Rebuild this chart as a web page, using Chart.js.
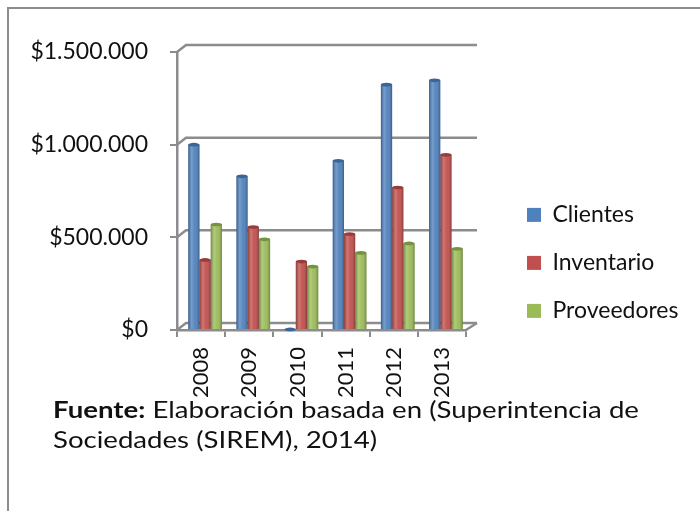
<!DOCTYPE html>
<html lang="es">
<head>
<meta charset="utf-8">
<script src="https://cdn.jsdelivr.net/npm/chart.js@4.4.1/dist/chart.umd.min.js"></script>
<style>
    body { margin: 0; background: #fff; }
    .page { position: relative; width: 700px; height: 511px; overflow: hidden; font-family: Lato, "Open Sans", sans-serif; }
    .frame { position: absolute; left: 7px; top: 7px; right: -10px; bottom: -10px; border-top: 2px solid #8c8c8c; border-left: 2px solid #8c8c8c; }
    canvas { position: absolute; left: 0; top: 0; }
    .fuente { position: absolute; left: 53px; top: 394px; font-size: 23px; line-height: 30px; color: #111; white-space: nowrap; transform: scaleX(1.2); transform-origin: 0 0; }
</style>
</head>
<body>
<div class="page">
    <div class="frame"></div>
    <canvas id="chart" width="700" height="420"></canvas>
    <div class="fuente"><b>Fuente:</b> Elaboración basada en (Superintencia de<br>Sociedades (SIREM), 2014)</div>
</div>
<script>
const years = ["2008", "2009", "2010", "2011", "2012", "2013"];
const clientes = [1000000, 829000, 3000, 913000, 1324000, 1347000];
const inventario = [378000, 556000, 369000, 518000, 769000, 945000];
const proveedores = [569000, 489000, 342000, 416000, 467000, 438000];
const yTicks = [0, 500000, 1000000, 1500000];

const gridGray = "#8c8c8c";
const depthX = 9, depthY = -7;
const legendBoxWidth = 197;

const money = (v) => "$" + String(v).replace(/\B(?=(\d{3})+(?!\d))/g, ".");

// the layout caps a side legend at a fraction of the width, widen it back
const legendWidth = {
    id: "legendWidth",
    beforeLayout(chart) {
        const lg = chart.legend;
        if (!lg || lg._widthFixed) return;
        const fit = lg.fit.bind(lg);
        lg.fit = () => { fit(); lg.width = legendBoxWidth; };
        lg._widthFixed = true;
    }
};

// back wall + floor, drawn from the scales
const wall3d = {
    id: "wall3d",
    beforeDatasetsDraw(chart) {
        const { ctx, scales: { x, y } } = chart;
        ctx.save();
        ctx.strokeStyle = gridGray;
        ctx.lineWidth = 2.5;
        yTicks.forEach(t => {
            const py = y.getPixelForValue(t);
            ctx.beginPath();
            ctx.moveTo(x.left, py);
            ctx.lineTo(x.left + depthX, py + depthY);
            ctx.lineTo(x.right + depthX + 2, py + depthY);
            ctx.stroke();
        });
        const py0 = y.getPixelForValue(0);
        ctx.beginPath();
        ctx.moveTo(x.right, py0);
        ctx.lineTo(x.right + depthX + 2, py0 + depthY);
        ctx.stroke();
        ctx.restore();
        // push bars a bit back into the depth
        ctx.save();
        ctx.translate(4, 0);
    },
    afterDatasetsDraw(chart) {
        const { ctx } = chart;
        chart.data.datasets.forEach((ds, i) => {
            chart.getDatasetMeta(i).data.forEach(bar => {
                const { x, y, base, width } = bar.getProps(["x", "y", "base", "width"], true);
                const l = x - width / 2;
                const g = ctx.createLinearGradient(l, 0, l + width, 0);
                g.addColorStop(0, "rgba(0,0,0,0.28)");
                g.addColorStop(0.3, "rgba(255,255,255,0.22)");
                g.addColorStop(0.6, "rgba(255,255,255,0.04)");
                g.addColorStop(1, "rgba(0,0,0,0.30)");
                ctx.fillStyle = g;
                ctx.fillRect(l, y, width, base - y);
                ctx.beginPath();
                ctx.ellipse(x, y, width / 2, 1.8, 0, 0, Math.PI * 2);
                ctx.fillStyle = ds.edgeColor;
                ctx.fill();
            });
        });
        ctx.restore();
    }
};

new Chart(document.getElementById("chart"), {
    type: "bar",
    data: {
        labels: years,
        datasets: [
            { label: "Clientes", data: clientes, backgroundColor: "#4f81bd", edgeColor: "#3a6596" },
            { label: "Inventario", data: inventario, backgroundColor: "#c0504d", edgeColor: "#983c3a" },
            { label: "Proveedores", data: proveedores, backgroundColor: "#9bbb59", edgeColor: "#76923f" }
        ]
    },
    options: {
        responsive: false,
        animation: false,
        layout: { padding: { top: 52, left: 0, right: 1, bottom: 12 } },
        datasets: { bar: { categoryPercentage: 0.7, barPercentage: 1.0, borderWidth: 0 } },
        scales: {
            x: {
                grid: { drawOnChartArea: false, color: gridGray, lineWidth: 2, tickLength: 7, offset: true },
                border: { color: gridGray, width: 2.5 },
                ticks: { color: "#111", minRotation: 90, maxRotation: 90, padding: 10, font: { family: "Lato", size: 22 } }
            },
            y: {
                min: 0,
                max: 1500000,
                afterFit: (s) => { s.width = 177; },
                afterBuildTicks: (s) => { s.ticks = yTicks.map(v => ({ value: v })); },
                grid: { drawOnChartArea: false, color: gridGray, lineWidth: 2, tickLength: 7 },
                border: { color: gridGray, width: 2.5 },
                ticks: { color: "#111", padding: 22, font: { family: "Lato", size: 23 }, callback: (v) => money(v) }
            },
            gap: {
                type: "linear",
                axis: "y",
                position: "right",
                display: true,
                grid: { display: false },
                border: { display: false },
                ticks: { display: false },
                afterFit: (s) => { s.width = 36; }
            }
        },
        plugins: {
            tooltip: { enabled: false },
            legend: {
                position: "right",
                align: "start",
                title: { display: true, text: "", padding: { top: 0, bottom: 112 }, font: { size: 12 } },
                labels: { color: "#111", boxWidth: 14, boxHeight: 14, padding: 25, font: { family: "Lato", size: 23 } }
            }
        }
    },
    plugins: [legendWidth, wall3d]
});
</script>
</body>
</html>
